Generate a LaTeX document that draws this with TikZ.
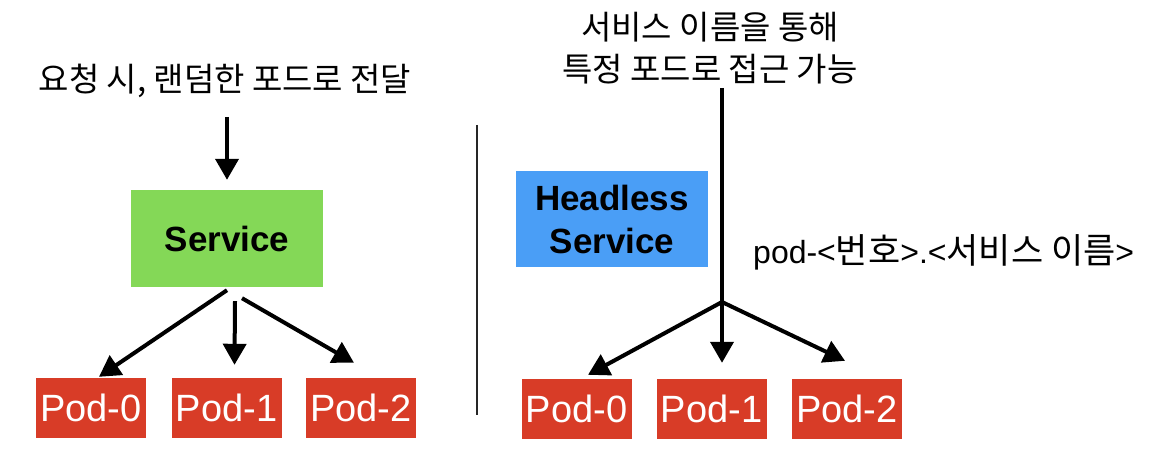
\documentclass[tikz,border=0pt]{standalone}
\usepackage{fontspec}
\setmainfont{Liberation Sans}
\newfontfamily\kr{Noto Sans CJK KR}
\usetikzlibrary{positioning, arrows.meta, calc}

\definecolor{svcgreen}{RGB}{132,216,87}
\definecolor{hlblue}{RGB}{74,158,246}
\definecolor{podred}{RGB}{216,60,39}

\begin{document}
\begin{tikzpicture}[
  x=1pt, y=-1pt,
  svcbox/.style={fill=svcgreen, minimum width=192pt, minimum height=97pt, inner sep=0pt,
    align=center, font=\fontsize{35}{43}\selectfont\bfseries},
  headless/.style={fill=hlblue, minimum width=192pt, minimum height=96pt, inner sep=0pt,
    align=center, font=\fontsize{35}{43}\selectfont\bfseries},
  pod/.style={fill=podred, text=white, minimum width=110pt, minimum height=60pt, inner sep=0pt,
    font=\fontsize{38}{40}\selectfont},
  title/.style={align=center, inner sep=0pt},
  flow/.style={-{Triangle[length=21pt, width=23pt]}, line width=4pt, draw=black},
  stem/.style={line width=4pt, draw=black},
  divider/.style={line width=2pt, draw=black!85}
]
\useasboundingbox (0,0) rectangle (1164,468);

% --- left: plain service ---
\node[title, anchor=base, font=\kr\fontsize{33}{40}\selectfont] (ltitle) at (225,92)
  {요청 시, 랜덤한 포드로 전달};
\coordinate (lin) at (227,117);
\node[svcbox] (svc) at (227,238.5) {Service};
\draw[flow, shorten >=10pt] (lin) -- (svc.north);

\node[pod] (p0) at (91,408) {Pod-0};
\node[pod] (p1) at (226.5,408) {Pod-1};
\node[pod] (p2) at (361,408) {Pod-2};

\draw[flow] ([yshift=-3pt]svc.south) -- ([xshift=8pt, yshift=1pt]p0.north);
\draw[flow] ([xshift=8pt, yshift=-14pt]svc.south) -- ([xshift=8pt, yshift=13pt]p1.north);
\draw[flow] ([xshift=15pt, yshift=-11pt]svc.south) -- ([xshift=-7pt, yshift=15pt]p2.north);

% --- divider ---
\draw[divider] (477,125) -- (477,415);

% --- right: headless service ---
\node[title, font=\kr\fontsize{33}{42}\selectfont] (rtitle) at (710,48)
  {서비스 이름을 통해\\특정 포드로 접근 가능};
\node[headless] (hsvc) at (612,219) {Headless\\Service};
\node[anchor=base west, inner sep=0pt, font=\fontsize{32}{40}\selectfont] (dns) at (753,263)
  {pod-<{\kr\fontsize{35}{40}\selectfont 번호}>.<{\kr\fontsize{35}{40}\selectfont 서비스 이름}>};

\coordinate (rin) at (722,88);
\coordinate (fork) at (722,302);
\draw[stem] (rin) -- (fork);

\node[pod] (q0) at (576.5,409) {Pod-0};
\node[pod] (q1) at (711.5,409) {Pod-1};
\node[pod] (q2) at (847,409) {Pod-2};

\draw[flow] (fork) -- ([xshift=11.5pt, yshift=4pt]q0.north);
\draw[flow] (fork) -- ([xshift=10.5pt, yshift=16pt]q1.north);
\draw[flow] (fork) -- ([xshift=-2pt, yshift=18pt]q2.north);

\end{tikzpicture}
\end{document}
